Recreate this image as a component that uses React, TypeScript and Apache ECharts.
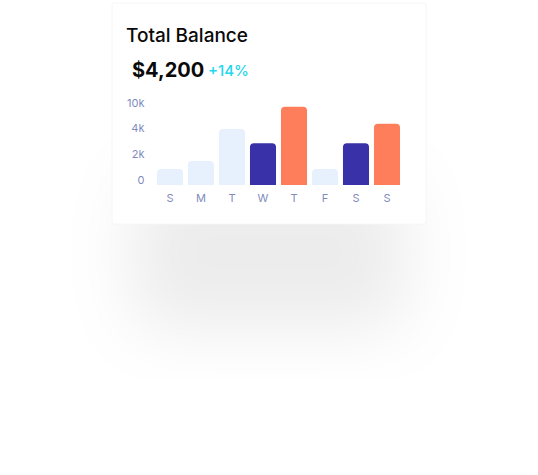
import React, { useEffect, useRef } from "react";
import * as echarts from "echarts";

const days = ["S", "M", "T", "W", "T", "F", "S", "S"];
// bar heights in axis units (one tick step = 2 units)
const values = [1.25, 1.88, 4.38, 3.26, 6.12, 1.25, 3.26, 4.79];
const barKinds = ["light", "light", "light", "dark", "accent", "light", "dark", "accent"];
const yTickLabels = ["0", "2k", "4k", "10k"];
const title = "Total Balance";
const balance = "$4,200";
const change = "+14%";

const kindColor: Record<string, string> = {
  light: "#e7f0fd",
  dark: "#3831a7",
  accent: "#fe7e5b",
};

export default function App() {
  const ref = useRef<HTMLDivElement>(null);
  useEffect(() => {
    document.body.style.margin = "0";
    const chart = echarts.init(ref.current!, undefined, { renderer: "svg" });
    const font = "Inter, 'Noto Sans', sans-serif";
    chart.setOption({
      animation: false,
      backgroundColor: "#ffffff",
      graphic: [
        {
          type: "rect",
          z: 0,
          shape: { x: 132, y: 70, width: 274, height: 154, r: 30 },
          style: {
            fill: "#ffffff",
            shadowBlur: 66,
            shadowOffsetY: 105,
            shadowColor: "rgba(0,0,0,0.075)",
          },
        },
        {
          type: "rect",
          z: 1,
          shape: { x: 112, y: 3, width: 314, height: 221, r: 2 },
          style: { fill: "#ffffff", stroke: "#f6f6f6", lineWidth: 1 },
        },
        {
          type: "text",
          z: 2,
          x: 126,
          y: 35,
          style: {
            text: title,
            fill: "#0a0a0a",
            font: `500 19px ${font}`,
            verticalAlign: "middle",
          },
        },
        {
          type: "text",
          z: 2,
          x: 132,
          y: 70,
          style: {
            text: balance,
            fill: "#0a0a0a",
            font: `700 20px ${font}`,
            verticalAlign: "middle",
          },
        },
        {
          type: "text",
          z: 2,
          x: 208,
          y: 70,
          style: {
            text: change,
            fill: "#22d6ee",
            font: `500 15px ${font}`,
            verticalAlign: "middle",
          },
        },
      ],
      grid: { left: 154.5, right: 135.5, top: 82.6, bottom: 290, containLabel: false },
      xAxis: {
        type: "category",
        data: days,
        axisLine: { show: false },
        axisTick: { show: false },
        axisLabel: { color: "#7f8bbd", fontSize: 11, fontFamily: font, margin: 7 },
        z: 3,
      },
      yAxis: {
        type: "value",
        min: 0,
        max: 8,
        interval: 2,
        splitLine: { show: false },
        axisLine: { show: false },
        axisTick: { show: false },
        axisLabel: {
          color: "#7f8bbd",
          fontSize: 11,
          fontFamily: font,
          margin: 10,
          verticalAlign: "bottom",
          formatter: (v: number) => {
            const i = Math.round(v / 2);
            return v % 2 === 0 && i < yTickLabels.length ? yTickLabels[i] : "";
          },
        },
        z: 3,
      },
      series: [
        {
          type: "bar",
          z: 3,
          barCategoryGap: "16%",
          data: values.map((v, i) => ({
            value: v,
            itemStyle: { color: kindColor[barKinds[i]], borderRadius: [4, 4, 0, 0] },
          })),
        },
      ],
    });
    return () => chart.dispose();
  }, []);
  return <div ref={ref} style={{ width: 538, height: 475 }} />;
}
